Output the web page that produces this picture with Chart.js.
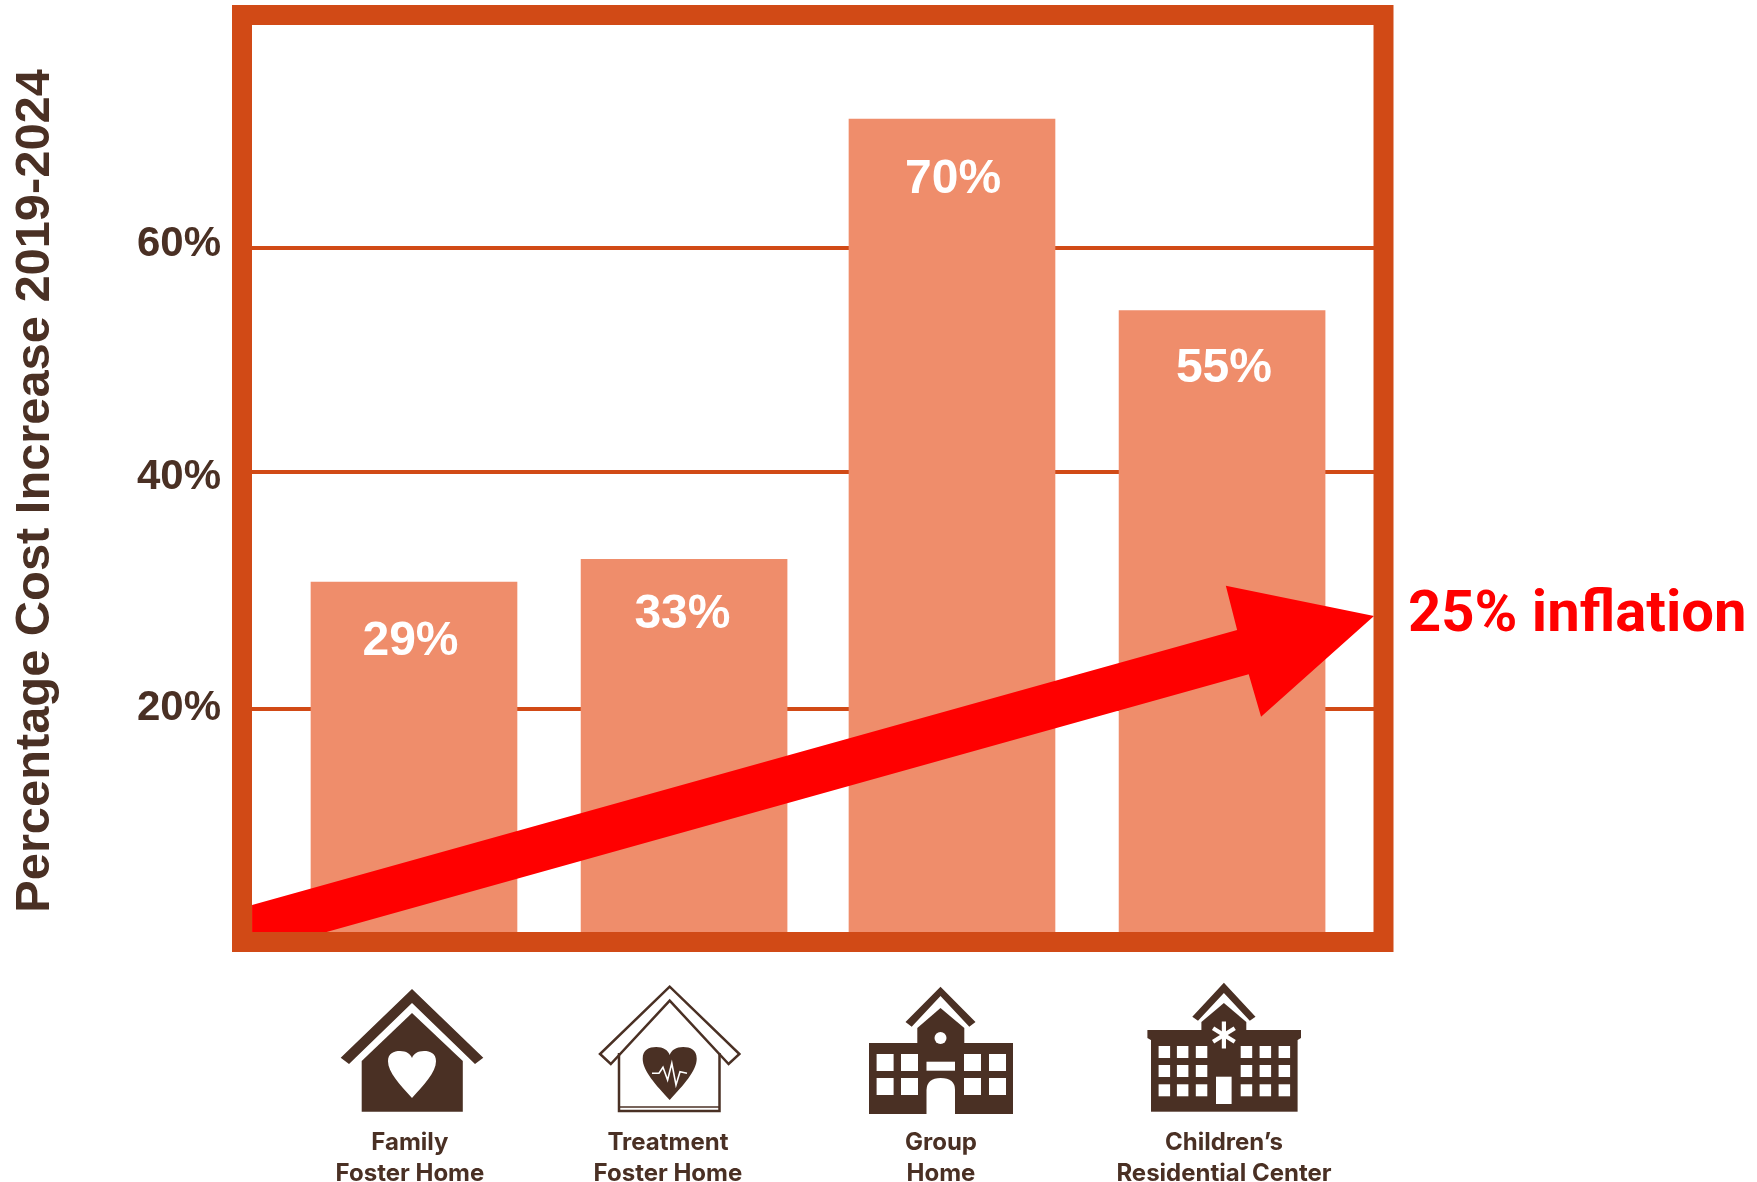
<!DOCTYPE html>
<html>
<head>
<meta charset="utf-8">
<script src="https://cdn.jsdelivr.net/npm/chart.js@4/dist/chart.umd.min.js"></script>
<style>html,body{margin:0;padding:0;background:#fff}canvas{display:block}</style>
</head>
<body>
<canvas id="c" width="1757" height="1182"></canvas>
<script>
const categories = [["Family","Foster Home"],["Treatment","Foster Home"],["Group","Home"],["Children\u2019s","Residential Center"]];
const barPositions = [0, 1.004, 2, 3.004];
const barHeights = [30.7, 32.7, 71.3, 54.5];
const valueLabels = ["29%","33%","70%","55%"];
const valueLabelX = [-0.013, 0.998, 2.004, 3.011];
const valueLabelY = [25.42, 27.82, 65.95, 49.4];
const gridValues = [19.57, 40.35, 60];
const tickLabelValues = [19.57, 39.84, 60.3];
const tickLabels = ["20%","40%","60%"];
const categoryLabelX = [-0.015, 0.944, 1.959, 3.011];
const arrowX = [-0.602, 3.060, 3.018, 3.569, 3.149, 3.103, -0.325, -0.602];
const arrowY = [2.37, 26.49, 30.38, 27.72, 18.89, 22.61, 0, 0];
const yTitle = "Percentage Cost Increase 2019-2024";
const arrowLabel = "25% inflation";

const BROWN = "#4a3024", FRAME = "#d14a16", BAR = "#ef8d6b", RED = "#ff0000";
const SANS = '"Liberation Sans", Arial, sans-serif';
const X_MIN = -0.6022, X_MAX = 3.5688, Y_MAX = 79.56;

function poly(ctx, pts, fill, stroke, lw){
  ctx.beginPath();
  pts.forEach((p,i)=> i ? ctx.lineTo(p[0],p[1]) : ctx.moveTo(p[0],p[1]));
  ctx.closePath();
  if(fill){ctx.fillStyle=fill;ctx.fill();}
  if(stroke){ctx.strokeStyle=stroke;ctx.lineWidth=lw;ctx.stroke();}
}
function chevron(ctx, cx, apex, ox, oy, ix, iy, innerApex, fill, stroke, lw){
  poly(ctx, [[cx,apex],[cx-ox,oy],[cx-ix,iy],[cx,innerApex],[cx+ix,iy],[cx+ox,oy]], fill, stroke, lw);
}
function heart(ctx, cx, y, w, h, fill){
  ctx.beginPath();
  ctx.moveTo(cx,y+h);
  ctx.bezierCurveTo(cx-.25*w,y+.72*h,cx-.5*w,y+.45*h,cx-.5*w,y+.22*h);
  ctx.bezierCurveTo(cx-.5*w,y+.05*h,cx-.38*w,y,cx-.25*w,y);
  ctx.bezierCurveTo(cx-.12*w,y,cx-.03*w,y+.06*h,cx,y+.15*h);
  ctx.bezierCurveTo(cx+.03*w,y+.06*h,cx+.12*w,y,cx+.25*w,y);
  ctx.bezierCurveTo(cx+.38*w,y,cx+.5*w,y+.05*h,cx+.5*w,y+.22*h);
  ctx.bezierCurveTo(cx+.5*w,y+.45*h,cx+.25*w,y+.72*h,cx,y+h);
  ctx.closePath();ctx.fillStyle=fill;ctx.fill();
}
function drawIcons(ctx){
  // Family foster home
  chevron(ctx,412,989,71.3,1057.7,63,1064,1003,BROWN);
  poly(ctx,[[361.7,1111.7],[361.7,1061],[412,1013],[462.8,1061],[462.8,1111.7]],BROWN);
  heart(ctx,412,1051,48,47,"#fff");
  // Treatment foster home
  chevron(ctx,669.7,986.7,69.7,1054,58.9,1064,1000.7,"#fff",BROWN,2.5);
  ctx.strokeStyle=BROWN;ctx.lineWidth=2.5;
  ctx.beginPath();ctx.moveTo(619,1053);ctx.lineTo(619,1111);ctx.lineTo(719.5,1111);ctx.lineTo(719.5,1053);ctx.stroke();
  ctx.beginPath();ctx.moveTo(619,1107);ctx.lineTo(719.5,1107);ctx.lineWidth=1.5;ctx.stroke();
  heart(ctx,669.7,1047,54,53,BROWN);
  ctx.strokeStyle="#fff";ctx.lineWidth=1.6;ctx.beginPath();
  [[652,1073.3],[659,1073.3],[663,1067.3],[667.6,1080],[671.8,1063.3],[676,1085],[680,1071.7],[687,1073.3]].forEach((p,i)=> i?ctx.lineTo(p[0],p[1]):ctx.moveTo(p[0],p[1]));
  ctx.stroke();
  // Group home
  chevron(ctx,940.5,986.7,35,1022,28.8,1026.7,996,BROWN);
  poly(ctx,[[917.3,1043],[917.3,1028],[940.5,1008],[964.3,1028],[964.3,1043]],BROWN);
  ctx.fillStyle=BROWN;ctx.fillRect(869,1043,144,71);
  ctx.fillStyle="#fff";
  [876.6,901,964,989].forEach(x=>{[1054,1078].forEach(y=>ctx.fillRect(x,y,17,17));});
  ctx.fillRect(926.5,1061.7,28.5,9);
  ctx.beginPath();ctx.ellipse(940.5,1038,6,6,0,0,Math.PI*2);ctx.fill();
  ctx.beginPath();ctx.moveTo(926.5,1114);ctx.lineTo(926.5,1090);ctx.quadraticCurveTo(927,1078,940.7,1078);ctx.quadraticCurveTo(955,1078,955,1090);ctx.lineTo(955,1114);ctx.closePath();ctx.fill();
  // Children's residential center
  chevron(ctx,1223.9,982.7,31.6,1016.7,25.9,1020.7,993,BROWN);
  poly(ctx,[[1201.4,1032],[1201.4,1022],[1223.9,1003],[1246.3,1022],[1246.3,1032]],BROWN);
  poly(ctx,[[1147.4,1030],[1301,1030],[1301,1038],[1297.6,1040],[1150.8,1040],[1147.4,1038]],BROWN);
  ctx.fillStyle=BROWN;ctx.fillRect(1151,1038,146.6,73.7);
  ctx.fillStyle="#fff";
  [1158.6,1176.9,1195.8,1240.7,1259.6,1278.6].forEach(x=>{[1046,1065,1084.3].forEach(y=>ctx.fillRect(x,y,11.5,12));});
  ctx.fillRect(1216,1076.7,15.6,27.3);
  ctx.strokeStyle="#fff";ctx.lineWidth=4.2;
  for(let a=0;a<3;a++){
    const t=a*Math.PI/3+Math.PI/2,dx=Math.cos(t)*12.5,dy=Math.sin(t)*13.5;
    ctx.beginPath();ctx.moveTo(1223.9-dx,1035-dy);ctx.lineTo(1223.9+dx,1035+dy);ctx.stroke();
  }
}

const extras = {
  id:"extras",
  afterDraw(chart){
    const {ctx,chartArea:a,scales:{x,y}} = chart;
    ctx.save();
    // frame
    ctx.strokeStyle=FRAME;ctx.lineWidth=20;
    ctx.strokeRect(a.left-10,a.top-10,a.right-a.left+19.5,a.bottom-a.top+20);
    // value labels
    ctx.fillStyle="#fff";ctx.font='bold 48px '+SANS;ctx.textAlign="center";ctx.textBaseline="middle";
    valueLabels.forEach((t,i)=>ctx.fillText(t,x.getPixelForValue(valueLabelX[i]),y.getPixelForValue(valueLabelY[i])));
    // axis title
    ctx.save();ctx.translate(36,491);ctx.rotate(-Math.PI/2);
    ctx.fillStyle=BROWN;ctx.font='bold 48.8px '+SANS;ctx.fillText(yTitle,0,0);ctx.restore();
    // arrow label
    ctx.fillStyle=RED;ctx.font='bold 58px Roboto, sans-serif';ctx.textAlign="left";ctx.textBaseline="alphabetic";
    ctx.fillText(arrowLabel,1408,631);
    drawIcons(ctx);
    ctx.restore();
  }
};

new Chart(document.getElementById("c"),{
  type:"bar",
  plugins:[extras],
  data:{
    datasets:[
      {type:"line",order:0,data:arrowX.map((v,i)=>({x:v,y:arrowY[i]})),fill:"shape",backgroundColor:RED,borderColor:RED,borderWidth:0,pointRadius:0,tension:0},
      {type:"bar",order:1,data:barPositions.map((v,i)=>({x:v,y:barHeights[i]})),backgroundColor:BAR,barThickness:206,borderWidth:0}
    ]
  },
  options:{
    responsive:false,animation:false,devicePixelRatio:1,
    layout:{padding:{top:25,right:383,left:0,bottom:0}},
    plugins:{legend:{display:false},tooltip:{enabled:false},title:{display:false}},
    scales:{
      x:{
        type:"linear",min:X_MIN,max:X_MAX,offset:false,
        grid:{display:false,drawTicks:false,offset:false},border:{display:false},
        afterBuildTicks(s){s.ticks=categoryLabelX.map(v=>({value:v}));},
        afterFit(s){s.height=250;s.paddingLeft=0;s.paddingRight=0;},
        ticks:{autoSkip:false,maxRotation:0,minRotation:0,padding:195,color:BROWN,
          font:{family:"Inter",weight:"700",size:24,lineHeight:1.31},
          callback:(v,i)=>categories[i]}
      },
      y:{
        type:"linear",position:"left",min:0,max:Y_MAX,weight:1,
        grid:{color:FRAME,lineWidth:4,drawTicks:false},border:{display:false},
        ticks:{display:false},
        afterBuildTicks(s){s.ticks=gridValues.map(v=>({value:v}));},
        afterFit(s){s.width=0;s.paddingTop=0;s.paddingBottom=0;}
      },
      y2:{
        type:"linear",position:"left",min:0,max:Y_MAX,weight:2,
        grid:{display:false,drawTicks:false},border:{display:false},
        afterBuildTicks(s){s.ticks=tickLabelValues.map(v=>({value:v}));},
        afterFit(s){s.width=252;s.paddingTop=0;s.paddingBottom=0;},
        ticks:{autoSkip:false,padding:31,color:BROWN,font:{family:"Liberation Sans",weight:"bold",size:42},
          callback:(v,i)=>tickLabels[i]}
      }
    }
  }
});
</script>
</body>
</html>
